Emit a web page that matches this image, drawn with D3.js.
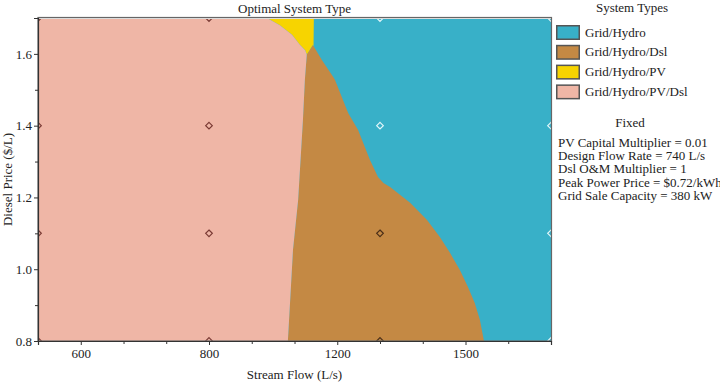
<!DOCTYPE html>
<html>
<head>
<meta charset="utf-8">
<script src="https://cdn.jsdelivr.net/npm/d3@7"></script>
<style>
  body { margin: 0; background: #fff; }
  text { font-family: "Liberation Serif", "DejaVu Serif", serif; fill: #222; }
</style>
</head>
<body>
<div id="chart"></div>
<script>
// Sensitivity samples (stream flow L/s) and diesel price samples ($/L)
const flowSamples = [533.3, 800, 1333.3, 1666.7];
const priceSamples = [0.8, 1.1, 1.4, 1.7];
const flowTicks = [600, 800, 1200, 1500];
const flowMinorTicks = [666.7, 733.3, 933.3, 1066.7, 1333.3, 1416.7, 1583.3];
const priceTicks = [0.8, 1.0, 1.2, 1.4, 1.6];
const priceMinorTicks = [0.9, 1.1, 1.3, 1.5, 1.7];

const systemTypes = ["Grid/Hydro", "Grid/Hydro/Dsl", "Grid/Hydro/PV", "Grid/Hydro/PV/Dsl"];
const typeColors = ["#38b0c8", "#c48944", "#f7d400", "#efb6a6"];

// Optimal type at each sample point: rows = priceSamples, cols = flowSamples
const sampleTypes = [
  [3, 3, 1, 0],
  [3, 3, 1, 0],
  [3, 3, 0, 0],
  [3, 3, 0, 0]
];

// Region boundaries [flow, price]
const pinkDslBoundary = [
  [1046, 0.8], [1062, 1.054], [1078, 1.193], [1093, 1.416], [1099, 1.527], [1105, 1.598]
];
const pinkPvBoundary = [
  [1105, 1.598], [1100, 1.610], [1084, 1.625], [1059, 1.653], [1021, 1.680], [981, 1.7]
];
const pvHydroBoundary = [[1127, 1.7], [1126, 1.622]];
const dslHydroBoundary = [
  [1124, 1.625], [1152, 1.583], [1187, 1.536], [1193, 1.527], [1234, 1.435], [1265, 1.388],
  [1302, 1.304], [1327, 1.257], [1340, 1.240], [1353, 1.229], [1392, 1.185], [1425, 1.137],
  [1450, 1.090], [1470, 1.045], [1489, 0.998], [1505, 0.950], [1518, 0.906], [1528, 0.859],
  [1536, 0.8]
];

const fixedTexts = [
  "PV Capital Multiplier = 0.01",
  "Design Flow Rate = 740 L/s",
  "Dsl O&M Multiplier = 1",
  "Peak Power Price = $0.72/kWh",
  "Grid Sale Capacity = 380 kW"
];

const margin = { top: 18, left: 38 };
const width = 513, height = 323;

const svg = d3.select("#chart").append("svg")
  .attr("width", 720).attr("height", 384);

const g = svg.append("g").attr("transform", `translate(${margin.left},${margin.top})`);

const x = d3.scaleLinear()
  .domain(flowSamples)
  .range(flowSamples.map((d, i) => i * width / (flowSamples.length - 1)));
const y = d3.scaleLinear().domain([0.8, 1.7]).range([height, 0]);

g.append("clipPath").attr("id", "plotclip")
  .append("rect").attr("width", width).attr("height", height);

const plot = g.append("g").attr("clip-path", "url(#plotclip)");
const [xMin, xMax] = d3.extent(flowSamples);
const [yMin, yMax] = d3.extent(priceSamples);
const poly = d3.line().x(d => x(d[0])).y(d => y(d[1]));

// Grid/Hydro fills the rest
plot.append("path")
  .attr("d", poly([[xMin, yMin], [xMax, yMin], [xMax, yMax], [xMin, yMax]]) + "Z")
  .attr("fill", typeColors[0]);

// Grid/Hydro/Dsl
const dslPoly = pinkDslBoundary.concat(dslHydroBoundary);
plot.append("path")
  .attr("d", poly(dslPoly) + "Z")
  .attr("fill", typeColors[1]);

// Grid/Hydro/PV
const pvPoly = pinkPvBoundary.slice().reverse().concat([dslHydroBoundary[0]], pvHydroBoundary.slice().reverse());
plot.append("path")
  .attr("d", poly(pvPoly) + "Z")
  .attr("fill", typeColors[2]);

// Grid/Hydro/PV/Dsl
const pinkPoly = [[xMin, yMin], [xMin, yMax]]
  .concat(pinkPvBoundary.slice().reverse())
  .concat(pinkDslBoundary.slice().reverse());
plot.append("path")
  .attr("d", poly(pinkPoly) + "Z")
  .attr("fill", typeColors[3]);

// Sample point markers
const points = [];
priceSamples.forEach((p, i) => flowSamples.forEach((f, j) => points.push({ f, p, t: sampleTypes[i][j] })));
plot.selectAll("path.pt").data(points).enter().append("path")
  .attr("class", "pt")
  .attr("d", d3.symbol().type(d3.symbolDiamond2).size(28))
  .attr("transform", d => `translate(${x(d.f)},${y(d.p)})`)
  .attr("fill", "none")
  .attr("stroke", d => d.t === 0 ? "#e2f6fa" : (d.t === 1 ? "#4a2e18" : "#7a3a34"))
  .attr("stroke-width", 1.2);

// Frame
g.append("rect")
  .attr("x", 0.5).attr("y", 0.5).attr("width", width).attr("height", height)
  .attr("fill", "none").attr("stroke", "#e8e8e8").attr("stroke-width", 1);
g.append("rect")
  .attr("x", 0).attr("y", -0.5).attr("width", width + 0.5).attr("height", height + 0.5)
  .attr("fill", "none").attr("stroke", "#666").attr("stroke-width", 1.2);

// Axes
const xAxis = g.append("g").attr("transform", `translate(0,${height})`)
  .call(d3.axisBottom(x).tickValues(flowTicks).tickSize(4).tickPadding(4).tickFormat(d3.format("d")));
g.append("g").attr("transform", `translate(0,${height})`)
  .call(d3.axisBottom(x).tickValues(flowMinorTicks).tickSize(3).tickFormat(""))
  .select(".domain").remove();
const yAxis = g.append("g")
  .call(d3.axisLeft(y).tickValues(priceTicks).tickSize(4).tickPadding(2).tickFormat(d3.format(".1f")));
g.append("g")
  .call(d3.axisLeft(y).tickValues(priceMinorTicks).tickSize(3).tickFormat(""))
  .select(".domain").remove();

g.selectAll(".domain").attr("stroke", "#333").attr("stroke-width", 1.2);
g.selectAll(".tick line").attr("stroke", "#333");
g.selectAll(".tick text").style("font-size", "13px").attr("fill", "#222");

// Titles
svg.append("text")
  .attr("x", margin.left + width / 2).attr("y", 13)
  .attr("text-anchor", "middle").style("font-size", "13px")
  .text("Optimal System Type");
svg.append("text")
  .attr("x", margin.left + width / 2).attr("y", 379)
  .attr("text-anchor", "middle").style("font-size", "13px")
  .text("Stream Flow (L/s)");
svg.append("text")
  .attr("transform", `translate(12,${margin.top + height / 2}) rotate(-90)`)
  .attr("text-anchor", "middle").style("font-size", "13px")
  .text("Diesel Price ($/L)");

// Legend
const legend = svg.append("g").attr("transform", "translate(556,0)");
legend.append("text")
  .attr("x", 76).attr("y", 12).attr("text-anchor", "middle").style("font-size", "13px")
  .text("System Types");
const items = legend.selectAll("g.item").data(systemTypes).enter().append("g")
  .attr("class", "item")
  .attr("transform", (d, i) => `translate(0,${25 + i * 19.8})`);
items.append("rect")
  .attr("x", 0.75).attr("y", 0.75).attr("width", 22.5).attr("height", 13.5)
  .attr("fill", (d, i) => typeColors[i])
  .attr("stroke", "#555").attr("stroke-width", 1.5);
items.append("text")
  .attr("x", 29).attr("y", 11.5).style("font-size", "13px")
  .text(d => d);

legend.append("text")
  .attr("x", 74).attr("y", 127).attr("text-anchor", "middle").style("font-size", "13px")
  .text("Fixed");
legend.selectAll("text.fixed").data(fixedTexts).enter().append("text")
  .attr("class", "fixed")
  .attr("x", 2).attr("y", (d, i) => 147 + i * 13.2)
  .style("font-size", "13px")
  .text(d => d);
</script>
</body>
</html>
